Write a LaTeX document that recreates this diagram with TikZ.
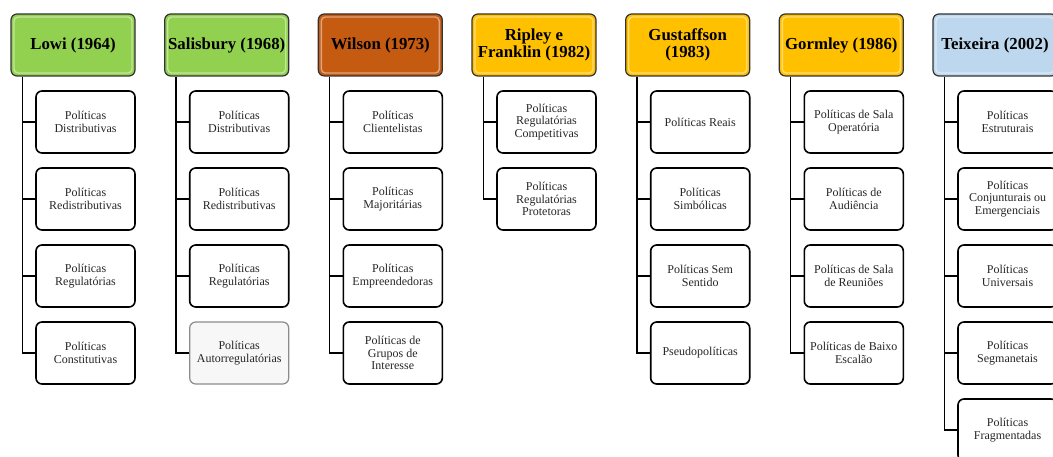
\documentclass[tikz,border=0pt]{standalone}
\usepackage{fontspec}
\setmainfont{Liberation Serif}
\usetikzlibrary{calc}

\definecolor{verde}{HTML}{92D050}
\definecolor{laranja}{HTML}{C55A11}
\definecolor{ouro}{HTML}{FFC000}
\definecolor{azul}{HTML}{BDD7EE}

\tikzset{
  autor/.style={draw=black!80, line width=1.2pt, rounded corners=6pt,
    minimum width=124pt, minimum height=62pt, inner sep=0pt, align=center,
    font=\bfseries\fontsize{16.8}{17.5}\selectfont,
    path picture={\draw[white, opacity=.45, line width=1.4pt, rounded corners=4pt]
      ([shift={(3pt,-3pt)}]path picture bounding box.north west) rectangle
      ([shift={(-3pt,3pt)}]path picture bounding box.south east);}},
  tipo/.style={draw=black, line width=1.6pt, rounded corners=6pt, fill=white,
    minimum width=99pt, minimum height=62pt, inner sep=0pt, align=center,
    text=black!85, font=\fontsize{12}{12.5}\selectfont},
  ramo/.style={line width=1.4pt, black}
}

\begin{document}
\begin{tikzpicture}[x=1pt, y=-1pt]
\clip (0,0) rectangle (1053,457);
\fill[white] (0,0) rectangle (1053,457);

%%%%%%%%%%%%%%%%%%%%%%%%%%%%%%%%%%%%%%%%%%%%%%%% 	LOWI
\node[autor, fill=verde] (lowi) at (73,45) {Lowi (1964)};
\node[tipo] (lowi1) at (85.5,122) {Políticas\\Distributivas};
\node[tipo] (lowi2) at (85.5,199) {Políticas\\Redistributivas};
\node[tipo] (lowi3) at (85.5,276) {Políticas\\Regulatórias};
\node[tipo] (lowi4) at (85.5,353) {Políticas\\Constitutivas};

%%%%%%%%%%%%%%%%%%%%%%%%%%%%%%%%%%%%%%%%%%%%%%%% 	SALISBURY
\node[autor, fill=verde] (sal) at (226.7,45) {Salisbury (1968)};
\node[tipo] (sal1) at (239.2,122) {Políticas\\Distributivas};
\node[tipo] (sal2) at (239.2,199) {Políticas\\Redistributivas};
\node[tipo] (sal3) at (239.2,276) {Políticas\\Regulatórias};
\node[tipo, draw=black!45, line width=1.2pt, fill=black!3] (sal4) at (239.2,353) {Políticas\\Autorregulatórias};

%%%%%%%%%%%%%%%%%%%%%%%%%%%%%%%%%%%%%%%%%%%%%%%% 	WILSON
\node[autor, fill=laranja] (wil) at (380.3,45) {Wilson (1973)};
\node[tipo] (wil1) at (392.8,122) {Políticas\\Clientelistas};
\node[tipo] (wil2) at (392.8,199) {Políticas\\Majoritárias};
\node[tipo] (wil3) at (392.8,276) {Políticas\\Empreendedoras};
\node[tipo] (wil4) at (392.8,353) {Políticas de\\Grupos de\\Interesse};

%%%%%%%%%%%%%%%%%%%%%%%%%%%%%%%%%%%%%%%%%%%%%%%% 	RIPLEY E FRANKLIN
\node[autor, fill=ouro] (rip) at (534,45) {Ripley e\\Franklin (1982)};
\node[tipo] (rip1) at (546.5,122) {Políticas\\Regulatórias\\Competitivas};
\node[tipo] (rip2) at (546.5,199) {Políticas\\Regulatórias\\Protetoras};

%%%%%%%%%%%%%%%%%%%%%%%%%%%%%%%%%%%%%%%%%%%%%%%% 	GUSTAFFSON
\node[autor, fill=ouro] (gus) at (687.7,45) {Gustaffson\\(1983)};
\node[tipo] (gus1) at (700.2,122) {Políticas Reais};
\node[tipo] (gus2) at (700.2,199) {Políticas\\Simbólicas};
\node[tipo] (gus3) at (700.2,276) {Políticas Sem\\Sentido};
\node[tipo] (gus4) at (700.2,353) {Pseudopolíticas};

%%%%%%%%%%%%%%%%%%%%%%%%%%%%%%%%%%%%%%%%%%%%%%%% 	GORMLEY
\node[autor, fill=ouro] (gor) at (841.3,45) {Gormley (1986)};
\node[tipo] (gor1) at (853.8,122) {Políticas de Sala\\Operatória};
\node[tipo] (gor2) at (853.8,199) {Políticas de\\Audiência};
\node[tipo] (gor3) at (853.8,276) {Políticas de Sala\\de Reuniões};
\node[tipo] (gor4) at (853.8,353) {Políticas de Baixo\\Escalão};

%%%%%%%%%%%%%%%%%%%%%%%%%%%%%%%%%%%%%%%%%%%%%%%% 	TEIXEIRA
\node[autor, fill=azul] (tei) at (995,45) {Teixeira (2002)};
\node[tipo] (tei1) at (1007.5,122) {Políticas\\Estruturais};
\node[tipo] (tei2) at (1007.5,199) {Políticas\\Conjunturais ou\\Emergenciais};
\node[tipo] (tei3) at (1007.5,276) {Políticas\\Universais};
\node[tipo] (tei4) at (1007.5,353) {Políticas\\Segmanetais};
\node[tipo] (tei5) at (1007.5,430) {Políticas\\Fragmentadas};

%%%%%%%%%%%%%%%%%%%%%%%%%%%%%%%%%%%%%%%%%%%%%%%% 	RAMOS
\draw[ramo] ([xshift=12pt]lowi.south west) |- (lowi1.west)
            ([xshift=12pt]lowi.south west) |- (lowi2.west)
            ([xshift=12pt]lowi.south west) |- (lowi3.west)
            ([xshift=12pt]lowi.south west) |- (lowi4.west);
\draw[ramo] ([xshift=12pt]sal.south west) |- (sal1.west)
            ([xshift=12pt]sal.south west) |- (sal2.west)
            ([xshift=12pt]sal.south west) |- (sal3.west)
            ([xshift=12pt]sal.south west) |- (sal4.west);
\draw[ramo] ([xshift=12pt]wil.south west) |- (wil1.west)
            ([xshift=12pt]wil.south west) |- (wil2.west)
            ([xshift=12pt]wil.south west) |- (wil3.west)
            ([xshift=12pt]wil.south west) |- (wil4.west);
\draw[ramo] ([xshift=12pt]rip.south west) |- (rip1.west)
            ([xshift=12pt]rip.south west) |- (rip2.west);
\draw[ramo] ([xshift=12pt]gus.south west) |- (gus1.west)
            ([xshift=12pt]gus.south west) |- (gus2.west)
            ([xshift=12pt]gus.south west) |- (gus3.west)
            ([xshift=12pt]gus.south west) |- (gus4.west);
\draw[ramo] ([xshift=12pt]gor.south west) |- (gor1.west)
            ([xshift=12pt]gor.south west) |- (gor2.west)
            ([xshift=12pt]gor.south west) |- (gor3.west)
            ([xshift=12pt]gor.south west) |- (gor4.west);
\draw[ramo] ([xshift=12pt]tei.south west) |- (tei1.west)
            ([xshift=12pt]tei.south west) |- (tei2.west)
            ([xshift=12pt]tei.south west) |- (tei3.west)
            ([xshift=12pt]tei.south west) |- (tei4.west)
            ([xshift=12pt]tei.south west) |- (tei5.west);

\end{tikzpicture}
\end{document}
